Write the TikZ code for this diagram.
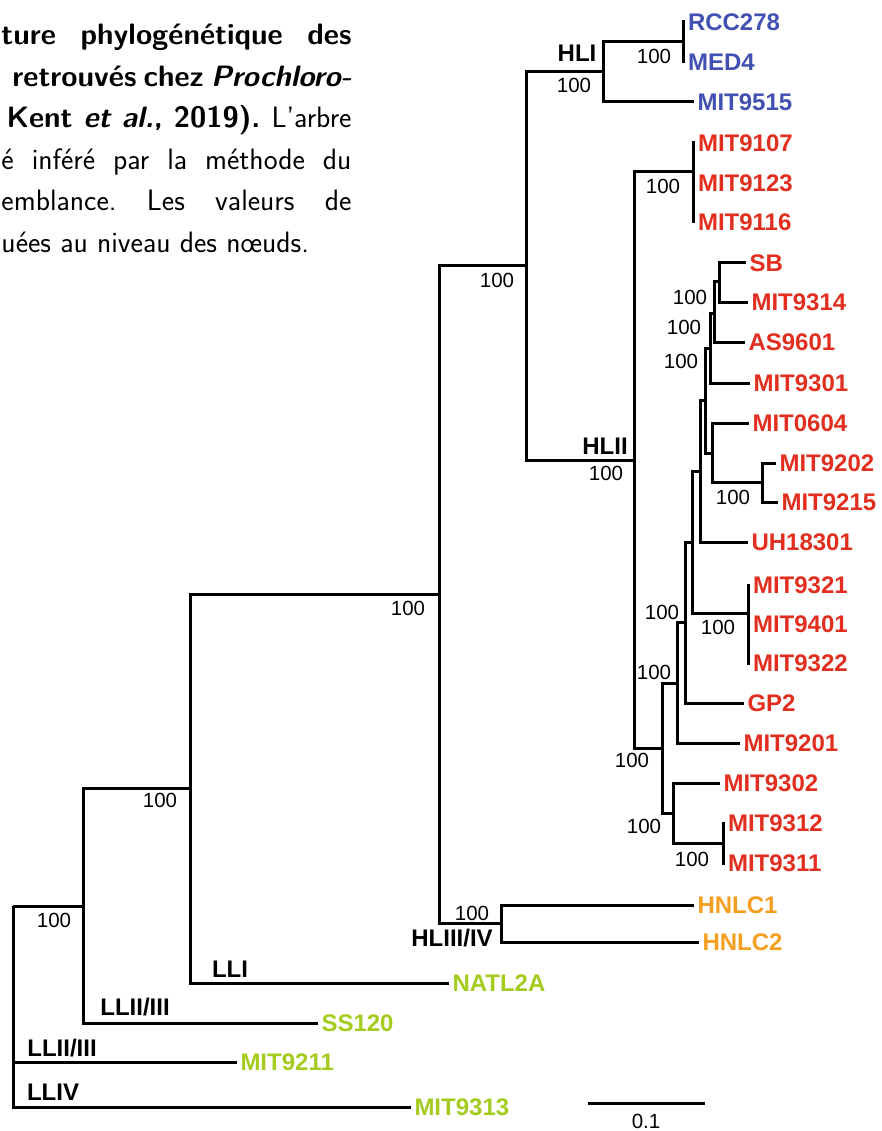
\documentclass[tikz,border=0pt]{standalone}
\usepackage{fontspec}
\newfontfamily\arial{Liberation Sans}
\definecolor{hlblue}{RGB}{66,80,178}
\definecolor{hlred}{RGB}{226,46,30}
\definecolor{hlorange}{RGB}{245,158,32}
\definecolor{llgreen}{RGB}{164,204,30}
\frenchspacing
\begin{document}
\begin{tikzpicture}[x=1pt,y=-1pt,line width=3pt,line join=miter,
  leaf/.style={anchor=west,inner sep=2pt,font=\arial\bfseries\fontsize{24}{24}\selectfont},
  boot/.style={inner sep=0pt,font=\arial\fontsize{20.5}{20.5}\selectfont},
  clade/.style={inner sep=0pt,font=\arial\bfseries\fontsize{24}{24}\selectfont},
  capline/.style={anchor=base west,inner sep=0pt,font=\sffamily\fontsize{29.5}{29.5}\selectfont}]
\useasboundingbox (0,0) rectangle (882,1131);
% caption fragment
\node[capline] (c1) at (0,45) {\makebox[350pt][s]{\bfseries ture phylogénétique des}};
\node[capline] (c2) at (11,86.5) {\makebox[339pt][s]{\bfseries retrouvés chez \itshape Prochloro-}};
\node[capline] (c3) at (5,128) {\makebox[345pt][s]{\bfseries Kent \textit{et al.}, 2019). \mdseries L'arbre}};
\node[capline] (c4) at (0,169.5) {\makebox[350pt][s]{é inféré par la méthode du}};
\node[capline] (c5) at (0,211) {\makebox[350pt][s]{emblance. Les valeurs de}};
\node[capline] (c6) at (0,252.5) {uées au niveau des nœuds.};
% internal nodes
\coordinate (R) at (13,906);
\coordinate (N1) at (83,906);
\coordinate (N2) at (190,788);
\coordinate (N3) at (439,594);
\coordinate (N4) at (526,266);
\coordinate (N5) at (501,923);
\coordinate (N6) at (603,72);
\coordinate (N7) at (683,42);
\coordinate (A) at (634,460);
\coordinate (N8) at (693,172);
\coordinate (B) at (662,748);
\coordinate (C) at (677,683);
\coordinate (D) at (673,813);
\coordinate (N9) at (723,843);
\coordinate (E) at (685,622);
\coordinate (F) at (692,542);
\coordinate (N10) at (748,613);
\coordinate (M) at (700,471);
\coordinate (L) at (705,400);
\coordinate (K) at (710,348);
\coordinate (J) at (714,313);
\coordinate (I) at (719,282);
\coordinate (H) at (712,453);
\coordinate (N11) at (762,482);
% leaves
\begin{scope}[every node/.append style={text=hlblue}]
\node[leaf] (RCC278) at (684.5,22) {RCC278};
\node[leaf] (MED4) at (684.5,62) {MED4};
\node[leaf] (MIT9515) at (694,102) {MIT9515};
\end{scope}
\begin{scope}[every node/.append style={text=hlred}]
\node[leaf] (MIT9107) at (694.5,143) {MIT9107};
\node[leaf] (MIT9123) at (694.5,183) {MIT9123};
\node[leaf] (MIT9116) at (694.5,222) {MIT9116};
\node[leaf] (SB) at (746,263) {SB};
\node[leaf] (MIT9314) at (748,302) {MIT9314};
\node[leaf] (AS9601) at (745,342) {AS9601};
\node[leaf] (MIT9301) at (750,383) {MIT9301};
\node[leaf] (MIT0604) at (749,423) {MIT0604};
\node[leaf] (MIT9202) at (776,463) {MIT9202};
\node[leaf] (MIT9215) at (778,502) {MIT9215};
\node[leaf] (UH18301) at (748,542) {UH18301};
\node[leaf] (MIT9321) at (749.5,585) {MIT9321};
\node[leaf] (MIT9401) at (749.5,624) {MIT9401};
\node[leaf] (MIT9322) at (749.5,663) {MIT9322};
\node[leaf] (GP2) at (744,703) {GP2};
\node[leaf] (MIT9201) at (740,743) {MIT9201};
\node[leaf] (MIT9302) at (720,783) {MIT9302};
\node[leaf] (MIT9312) at (724.5,823) {MIT9312};
\node[leaf] (MIT9311) at (724.5,863) {MIT9311};
\end{scope}
\begin{scope}[every node/.append style={text=hlorange}]
\node[leaf] (HNLC1) at (694,905) {HNLC1};
\node[leaf] (HNLC2) at (699,942) {HNLC2};
\end{scope}
\begin{scope}[every node/.append style={text=llgreen}]
\node[leaf] (NATL2A) at (449,983) {NATL2A};
\node[leaf] (SS120) at (318,1023) {SS120};
\node[leaf] (MIT9211) at (237,1062) {MIT9211};
\node[leaf] (MIT9313) at (411,1107) {MIT9313};
\end{scope}
% branches
\draw (R) -- (N1);
\draw (R) |- (MIT9211.west);
\draw (R) |- (MIT9313.west);
\draw (N1) |- (N2);
\draw (N1) |- (SS120.west);
\draw (N2) |- (N3);
\draw (N2) |- (NATL2A.west);
\draw (N3) |- (N4);
\draw (N3) |- (N5);
\draw (N5) |- (HNLC1.west);
\draw (N5) |- (HNLC2.west);
\draw (N4) |- (N6);
\draw (N4) |- (A);
\draw (N6) |- (N7);
\draw (N6) |- (MIT9515.west);
\draw (N7) |- (RCC278.west);
\draw (N7) |- (MED4.west);
\draw (A) |- (N8);
\draw (A) |- (B);
\draw (N8) |- (MIT9107.west);
\draw (N8) |- (MIT9123.west);
\draw (N8) |- (MIT9116.west);
\draw (B) |- (C);
\draw (B) |- (D);
\draw (D) |- (MIT9302.west);
\draw (D) |- (N9);
\draw (N9) |- (MIT9312.west);
\draw (N9) |- (MIT9311.west);
\draw (C) |- (E);
\draw (C) |- (MIT9201.west);
\draw (E) |- (F);
\draw (E) |- (GP2.west);
\draw (F) |- (M);
\draw (F) |- (N10);
\draw (N10) |- (MIT9321.west);
\draw (N10) |- (MIT9401.west);
\draw (N10) |- (MIT9322.west);
\draw (M) |- (L);
\draw (M) |- (UH18301.west);
\draw (L) |- (K);
\draw (L) |- (H);
\draw (K) |- (J);
\draw (K) |- (MIT9301.west);
\draw (J) |- (I);
\draw (J) |- (AS9601.west);
\draw (I) |- (SB.west);
\draw (I) |- (MIT9314.west);
\draw (H) |- (MIT0604.west);
\draw (H) |- (N11);
\draw (N11) |- (MIT9202.west);
\draw (N11) |- (MIT9215.west);
% bootstrap values
\node[boot] (b7) at (654,56) {100};
\node[boot] (b6) at (574,85) {100};
\node[boot] (b8) at (663,186) {100};
\node[boot] (b4) at (497,280) {100};
\node[boot] (bA) at (606,473) {100};
\node[boot] (bI) at (690,297) {100};
\node[boot] (bJ) at (684,327) {100};
\node[boot] (bK) at (681,361) {100};
\node[boot] (b11) at (733,497) {100};
\node[boot] (bE) at (662,612) {100};
\node[boot] (b10) at (718,627) {100};
\node[boot] (bC) at (654,672) {100};
\node[boot] (bB) at (632,760) {100};
\node[boot] (bD) at (644,826) {100};
\node[boot] (b9) at (692,859) {100};
\node[boot] (b5) at (472,913) {100};
\node[boot] (b3) at (408,608) {100};
\node[boot] (b2) at (160,800) {100};
\node[boot] (b1) at (54,920) {100};
% clade names
\node[clade] (HLI) at (577,53.5) {HLI};
\node[clade] (HLII) at (605,446) {HLII};
\node[clade] (HLIII) at (452,938) {HLIII/IV};
\node[clade] (LLI) at (230,969) {LLI};
\node[clade] (LLIIa) at (135,1007) {LLII/III};
\node[clade] (LLIIb) at (62,1048) {LLII/III};
\node[clade] (LLIV) at (53,1092) {LLIV};
% scale bar
\coordinate (sb1) at (588,1103);
\coordinate (sb2) at (705,1103);
\draw (sb1) -- (sb2);
\node[boot] (sbl) at (646,1121) {0.1};
\end{tikzpicture}
\end{document}
